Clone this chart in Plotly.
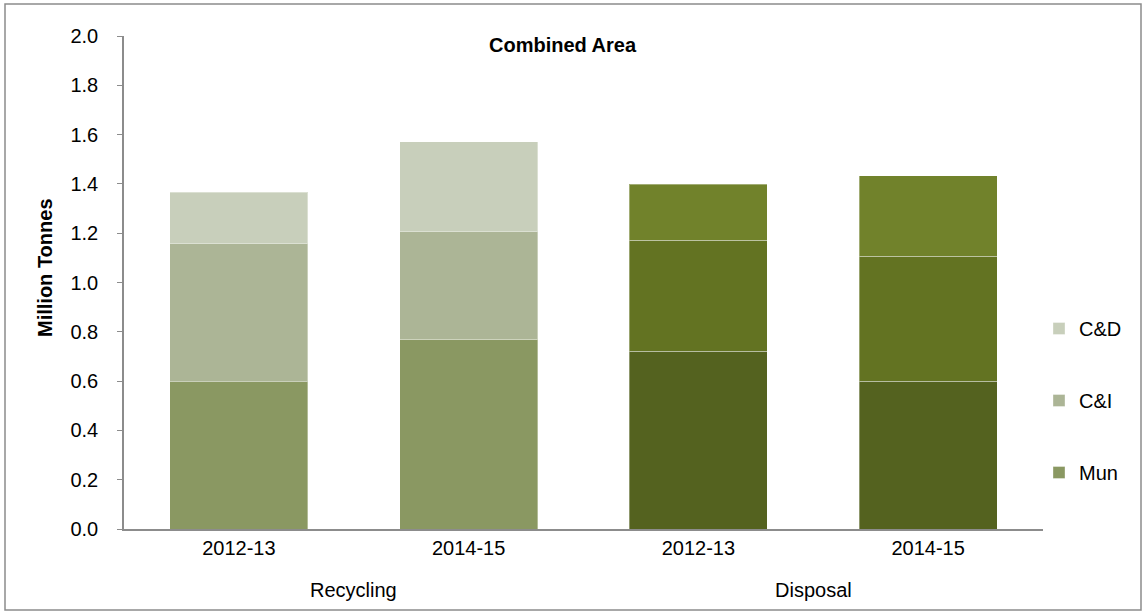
import plotly.graph_objects as go

groups = ["Recycling", "Recycling", "Disposal", "Disposal"]
years = ["2012-13", "2014-15", "2012-13", "2014-15"]
mun = [0.598, 0.77, 0.722, 0.60]
cni = [0.56, 0.435, 0.449, 0.507]
cnd = [0.209, 0.367, 0.227, 0.326]
y_ticks = [0.0, 0.2, 0.4, 0.6, 0.8, 1.0, 1.2, 1.4, 1.6, 1.8, 2.0]

colors = {
    "Mun": ["#8A9862", "#8A9862", "#54621F", "#54621F"],
    "C&I": ["#ACB596", "#ACB596", "#637322", "#637322"],
    "C&D": ["#C8CFBB", "#C8CFBB", "#71822B", "#71822B"],
}
ranks = {"C&D": 1, "C&I": 2, "Mun": 3}

xs = list(range(len(years)))
fig = go.Figure()
for name, vals in [("Mun", mun), ("C&I", cni), ("C&D", cnd)]:
    fig.add_trace(go.Bar(
        x=xs, y=vals, name=name, width=0.6,
        marker=dict(color=colors[name], line=dict(color="rgba(255,255,255,0.35)", width=1)),
        legendgroup=name, legendrank=ranks[name],
    ))

font = "Liberation Sans, Arial, sans-serif"
L, R, T, B = 124, 104, 36, 85
W, H = 1147, 614
pw, ph = W - L - R, H - T - B

def px(x):
    return (x - L) / pw

def py(y):
    return (H - B - y) / ph

annotations = [
    dict(text="<b>Combined Area</b>", x=px(563), y=py(45), xref="paper", yref="paper",
         xanchor="center", yanchor="middle",
         showarrow=False, font=dict(size=20, color="black", family=font)),
    dict(text="<b>Million Tonnes</b>", x=px(45), y=py(268), xref="paper", yref="paper",
         xanchor="center", yanchor="middle", textangle=-90,
         showarrow=False, font=dict(size=20, color="black", family=font)),
]
for gname, cx in [("Recycling", 0.5), ("Disposal", 2.5)]:
    annotations.append(dict(text=gname, x=cx, y=py(590), xref="x", yref="paper",
                            xanchor="center", yanchor="middle",
                            showarrow=False, font=dict(size=20, color="black", family=font)))

fig.update_layout(
    barmode="stack",
    width=W, height=H,
    margin=dict(l=L, r=R, t=T, b=B),
    paper_bgcolor="white", plot_bgcolor="white",
    font=dict(family=font, size=20, color="black"),
    showlegend=True,
    legend=dict(x=px(1039), y=py(309), yanchor="top", xanchor="left",
                traceorder="grouped", tracegroupgap=43,
                font=dict(size=20, color="black", family=font),
                itemwidth=30, bgcolor="rgba(0,0,0,0)"),
    xaxis=dict(range=[-0.5, 3.5], tickvals=xs, ticktext=years, showline=True,
               linecolor="#8C8C8C", linewidth=1.5, ticks="", showgrid=False, zeroline=False,
               tickfont=dict(size=20, color="black", family=font)),
    yaxis=dict(range=[0, 2.0], tickvals=y_ticks, tickformat=".1f", showline=True,
               linecolor="#8C8C8C", linewidth=1.5, ticks="outside", ticklen=5, tickcolor="#8C8C8C",
               showgrid=False, zeroline=False, ticklabelstandoff=15,
               tickfont=dict(size=20, color="black", family=font)),
    annotations=annotations,
    shapes=[dict(type="rect", xref="paper", yref="paper", x0=px(5), x1=px(1141), y0=py(610), y1=py(4),
                 line=dict(color="#8C8C8C", width=1.5), layer="below")],
)

fig.write_html("out.html", post_script="document.body.style.margin='0';",
               config={"displayModeBar": False})
